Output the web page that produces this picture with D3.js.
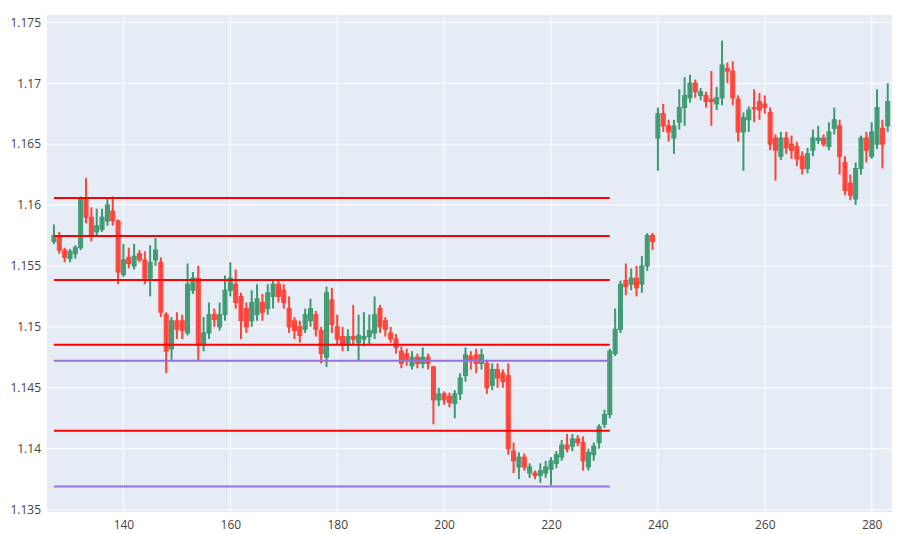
<!DOCTYPE html><html><head><meta charset="utf-8">
<script src="https://cdn.jsdelivr.net/npm/d3@7"></script>
<style>body{margin:0;background:#fff}</style></head><body>
<svg id="c" width="913" height="534"></svg>
<script>
const startX = 127;
const candles = [
[1.1570,1.1584,1.1568,1.1575],[1.1575,1.1578,1.1560,1.1563],[1.1563,1.1565,1.1553,1.1557],[1.1556,1.1564,1.1553,1.1562],
[1.1560,1.1567,1.1556,1.1565],[1.1565,1.1607,1.1563,1.1605],[1.1605,1.1622,1.1585,1.1590],[1.1590,1.1598,1.1570,1.1575],
[1.1578,1.1597,1.1575,1.1583],[1.1580,1.1597,1.1578,1.1590],[1.1587,1.1605,1.1583,1.1600],[1.1595,1.1607,1.1583,1.1587],
[1.1587,1.1588,1.1535,1.1545],[1.1543,1.1568,1.1541,1.1555],[1.1557,1.1565,1.1548,1.1552],[1.1550,1.1568,1.1547,1.1558],
[1.1560,1.1563,1.1553,1.1555],[1.1555,1.1562,1.1535,1.1540],[1.1540,1.1567,1.1525,1.1553],[1.1555,1.1573,1.1550,1.1563],
[1.1553,1.1557,1.1508,1.1512],[1.1510,1.1512,1.1462,1.1480],[1.1482,1.1508,1.1473,1.1505],[1.1505,1.1512,1.1490,1.1498],
[1.1505,1.1510,1.1490,1.1497],[1.1495,1.1552,1.1493,1.1535],[1.1530,1.1545,1.1527,1.1540],[1.1540,1.1550,1.1472,1.1485],
[1.1485,1.1508,1.1480,1.1495],[1.1495,1.1520,1.1490,1.1510],[1.1510,1.1515,1.1500,1.1506],[1.1500,1.1520,1.1497,1.1510],
[1.1510,1.1542,1.1505,1.1530],[1.1530,1.1553,1.1525,1.1540],[1.1535,1.1547,1.1515,1.1520],[1.1525,1.1528,1.1490,1.1505],
[1.1515,1.1520,1.1495,1.1500],[1.1505,1.1530,1.1500,1.1520],[1.1510,1.1535,1.1505,1.1523],[1.1520,1.1527,1.1505,1.1512],
[1.1515,1.1535,1.1510,1.1528],[1.1525,1.1538,1.1515,1.1535],[1.1535,1.1538,1.1520,1.1525],[1.1530,1.1535,1.1515,1.1520],
[1.1515,1.1525,1.1495,1.1500],[1.1505,1.1508,1.1490,1.1497],[1.1500,1.1505,1.1487,1.1493],[1.1498,1.1515,1.1495,1.1510],
[1.1505,1.1523,1.1500,1.1515],[1.1510,1.1513,1.1492,1.1498],[1.1497,1.1500,1.1470,1.1478],[1.1475,1.1533,1.1467,1.1528],
[1.1522,1.1532,1.1495,1.1502],[1.1500,1.1510,1.1485,1.1490],[1.1492,1.1500,1.1480,1.1485],[1.1485,1.1498,1.1480,1.1492],
[1.1492,1.1518,1.1485,1.1490],[1.1487,1.1510,1.1472,1.1493],[1.1490,1.1512,1.1484,1.1492],[1.1492,1.1510,1.1486,1.1497],
[1.1495,1.1525,1.1490,1.1510],[1.1515,1.1518,1.1495,1.1500],[1.1505,1.1508,1.1492,1.1498],[1.1495,1.1500,1.1487,1.1490],
[1.1490,1.1494,1.1478,1.1483],[1.1480,1.1484,1.1466,1.1470],[1.1478,1.1482,1.1468,1.1472],[1.1468,1.1480,1.1465,1.1475],
[1.1475,1.1478,1.1466,1.1470],[1.1470,1.1483,1.1466,1.1475],[1.1475,1.1478,1.1465,1.1470],[1.1467,1.1468,1.1420,1.1440],
[1.1440,1.1450,1.1435,1.1445],[1.1445,1.1447,1.1436,1.1440],[1.1443,1.1446,1.1434,1.1438],[1.1437,1.1448,1.1425,1.1445],
[1.1445,1.1462,1.1440,1.1458],[1.1460,1.1483,1.1455,1.1477],[1.1476,1.1480,1.1465,1.1473],[1.1477,1.1482,1.1462,1.1470],
[1.1470,1.1482,1.1465,1.1477],[1.1470,1.1473,1.1445,1.1450],[1.1452,1.1470,1.1448,1.1465],[1.1465,1.1470,1.1450,1.1458],
[1.1462,1.1465,1.1450,1.1455],[1.1460,1.1470,1.1395,1.1400],[1.1398,1.1405,1.1380,1.1390],[1.1385,1.1397,1.1375,1.1393],
[1.1393,1.1396,1.1382,1.1385],[1.1380,1.1388,1.1376,1.1385],[1.1380,1.1382,1.1375,1.1378],[1.1378,1.1388,1.1372,1.1382],
[1.1380,1.1390,1.1376,1.1385],[1.1383,1.1393,1.1370,1.1390],[1.1388,1.1398,1.1384,1.1395],[1.1393,1.1407,1.1390,1.1403],
[1.1403,1.1412,1.1397,1.1400],[1.1402,1.1412,1.1398,1.1408],[1.1408,1.1411,1.1402,1.1405],[1.1405,1.1410,1.1382,1.1390],
[1.1385,1.1400,1.1382,1.1397],[1.1395,1.1405,1.1390,1.1402],[1.1405,1.1420,1.1400,1.1418],[1.1420,1.1432,1.1417,1.1428],
[1.1428,1.1482,1.1425,1.1480],[1.1478,1.1515,1.1476,1.1498],[1.1498,1.1538,1.1495,1.1535],[1.1538,1.1552,1.1526,1.1533],
[1.1535,1.1548,1.1530,1.1540],[1.1540,1.1550,1.1525,1.1532],[1.1535,1.1558,1.1528,1.1550],[1.1550,1.1577,1.1546,1.1575],
[1.1575,1.1577,1.1563,1.1570],[1.1655,1.1680,1.1628,1.1675],[1.1675,1.1683,1.1660,1.1665],[1.1665,1.1670,1.1652,1.1660],
[1.1655,1.1670,1.1642,1.1665],[1.1668,1.1695,1.1662,1.1680],[1.1680,1.1705,1.1665,1.1690],[1.1688,1.1707,1.1684,1.1700],
[1.1700,1.1703,1.1688,1.1693],[1.1690,1.1696,1.1686,1.1693],[1.1690,1.1693,1.1680,1.1685],[1.1687,1.1710,1.1665,1.1685],
[1.1683,1.1697,1.1678,1.1688],[1.1688,1.1735,1.1682,1.1715],[1.1712,1.1717,1.1700,1.1710],[1.1710,1.1718,1.1682,1.1688],
[1.1687,1.1690,1.1652,1.1660],[1.1660,1.1676,1.1628,1.1672],[1.1670,1.1681,1.1660,1.1678],[1.1680,1.1695,1.1668,1.1679],
[1.1685,1.1692,1.1670,1.1678],[1.1683,1.1690,1.1675,1.1680],[1.1676,1.1680,1.1645,1.1650],[1.1655,1.1658,1.1620,1.1645],
[1.1640,1.1660,1.1637,1.1655],[1.1655,1.1660,1.1642,1.1647],[1.1650,1.1657,1.1638,1.1645],[1.1648,1.1652,1.1632,1.1638],
[1.1640,1.1644,1.1625,1.1630],[1.1630,1.1647,1.1626,1.1642],[1.1645,1.1662,1.1640,1.1655],[1.1653,1.1665,1.1650,1.1655],
[1.1655,1.1658,1.1648,1.1650],[1.1648,1.1668,1.1645,1.1660],[1.1663,1.1680,1.1658,1.1670],[1.1665,1.1670,1.1625,1.1640],
[1.1635,1.1640,1.1608,1.1612],[1.1618,1.1625,1.1604,1.1608],[1.1605,1.1635,1.1600,1.1630],[1.1630,1.1657,1.1625,1.1655],
[1.1655,1.1660,1.1635,1.1645],[1.1640,1.1668,1.1638,1.1660],[1.1650,1.1695,1.1646,1.1680],[1.1663,1.1670,1.1630,1.1650],
[1.1665,1.1700,1.1660,1.1685]
];
const redLevels = [1.16057, 1.15746, 1.15385, 1.14852, 1.14148];
const purpleLevels = [1.14721, 1.13689];
const levelSpan = [127, 231];
const xTicks = [140,160,180,200,220,240,260,280];
const yTicks = [1.135,1.14,1.145,1.15,1.155,1.16,1.165,1.17,1.175];

const svg = d3.select("#c");
const L=47,R=892,T=15,B=512;
const x = d3.scaleLinear().domain([125.7,283.8]).range([L,R]);
const y = d3.scaleLinear().domain([1.1348,1.1756]).range([B,T]);
svg.append("rect").attr("x",L).attr("y",T).attr("width",R-L).attr("height",B-T).attr("fill","#e5ecf6");
const g = svg.append("g");
xTicks.forEach(t=>g.append("line").attr("x1",x(t)).attr("x2",x(t)).attr("y1",T).attr("y2",B).attr("stroke","#fff"));
yTicks.forEach(t=>g.append("line").attr("y1",y(t)).attr("y2",y(t)).attr("x1",L).attr("x2",R).attr("stroke","#fff"));
const xa = svg.append("g").attr("transform",`translate(0,${B})`).call(d3.axisBottom(x).tickValues(xTicks).tickSize(0).tickPadding(8));
const ya = svg.append("g").attr("transform",`translate(${L},0)`).call(d3.axisLeft(y).tickValues(yTicks).tickFormat(d=>String(+d.toFixed(3))).tickSize(0).tickPadding(6));
[xa,ya].forEach(a=>{a.select(".domain").remove();a.selectAll("text").attr("fill","#444").style("font-family","'Open Sans',sans-serif").style("font-size","12px");});
const cg = svg.append("g");
const bw = (x(1)-x(0))*0.75;
candles.forEach((c,i)=>{
  const [o,h,l,cl]=c; const xi=x(startX+i); const col = cl>=o?"#3D9970":"#FF4136";
  cg.append("line").attr("x1",xi).attr("x2",xi).attr("y1",y(h)).attr("y2",y(l)).attr("stroke",col).attr("stroke-width",2);
  const top=y(Math.max(o,cl)), bot=y(Math.min(o,cl));
  cg.append("rect").attr("x",xi-bw/2).attr("y",top).attr("width",bw).attr("height",Math.max(1,bot-top)).attr("fill",col).attr("fill-opacity",0.85).attr("stroke",col).attr("stroke-width",1);
});
redLevels.forEach(v=>svg.append("line").attr("x1",x(levelSpan[0])).attr("x2",x(levelSpan[1])).attr("y1",y(v)).attr("y2",y(v)).attr("stroke","red").attr("stroke-width",2));
purpleLevels.forEach(v=>svg.append("line").attr("x1",x(levelSpan[0])).attr("x2",x(levelSpan[1])).attr("y1",y(v)).attr("y2",y(v)).attr("stroke","mediumpurple").attr("stroke-width",2));
</script></body></html>
